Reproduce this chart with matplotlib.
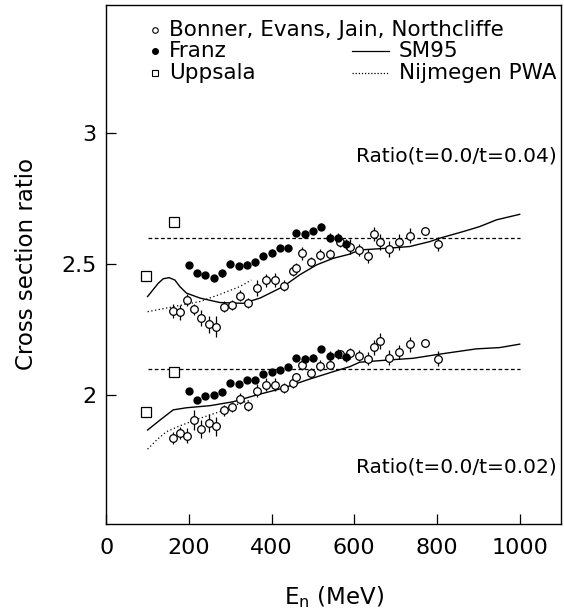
import numpy as np
import matplotlib.pyplot as plt

# Bonner, Evans, Jain, Northcliffe (open circles)
e_bonner = [162, 178, 195, 212, 230, 248, 266, 285, 305, 324, 344, 365, 386, 407, 429,
            451, 459, 473, 496, 518, 542, 566, 589, 612, 632, 647, 661, 685, 708, 734, 771, 802]
r04_bonner = [2.322, 2.316, 2.362, 2.327, 2.294, 2.270, 2.261, 2.337, 2.343, 2.379, 2.352,
              2.408, 2.438, 2.439, 2.418, 2.473, 2.486, 2.541, 2.507, 2.536, 2.540, 2.586,
              2.567, 2.555, 2.531, 2.615, 2.583, 2.558, 2.583, 2.608, 2.626, 2.577]
r04_bonner_err = [0.027, 0.028, 0.022, 0.022, 0.032, 0.033, 0.040, 0.022, 0.018, 0.022, 0.019,
                  0.030, 0.025, 0.025, 0.021, 0.019, 0.018, 0.025, 0.019, 0.020, 0.017, 0.020,
                  0.030, 0.023, 0.028, 0.025, 0.030, 0.030, 0.030, 0.028, 0.015, 0.027]
r02_bonner = [1.835, 1.854, 1.844, 1.904, 1.869, 1.892, 1.880, 1.942, 1.955, 1.986, 1.958,
              2.016, 2.039, 2.039, 2.026, 2.045, 2.068, 2.116, 2.085, 2.111, 2.115, 2.157,
              2.159, 2.150, 2.139, 2.182, 2.207, 2.143, 2.165, 2.194, 2.200, 2.139]
r02_bonner_err = [0.022, 0.022, 0.028, 0.038, 0.035, 0.035, 0.035, 0.021, 0.019, 0.022, 0.019,
                  0.025, 0.025, 0.025, 0.019, 0.017, 0.016, 0.020, 0.017, 0.021, 0.017, 0.016,
                  0.021, 0.021, 0.025, 0.029, 0.030, 0.029, 0.027, 0.029, 0.013, 0.027]

# Franz (filled dots)
e_franz = [200, 220, 240, 260, 280, 300, 320, 340, 360, 380, 400, 420, 440, 460, 480,
           500, 520, 540, 560, 580]
r04_franz = [2.496, 2.467, 2.457, 2.446, 2.464, 2.502, 2.492, 2.498, 2.506, 2.532, 2.544,
             2.561, 2.561, 2.618, 2.613, 2.626, 2.643, 2.601, 2.600, 2.576]
r02_franz = [2.014, 1.981, 1.995, 2.001, 2.011, 2.045, 2.042, 2.056, 2.056, 2.079, 2.089,
             2.096, 2.107, 2.141, 2.139, 2.143, 2.175, 2.148, 2.157, 2.144]
franz_err = [0.012] * 17 + [0.018, 0.02, 0.02]

# Uppsala (open squares)
e_uppsala = [96, 163]
r04_uppsala = [2.455, 2.660]
r04_uppsala_err = [0.0, 0.02]
r02_uppsala = [1.936, 2.089]

# SM95 curves
e_sm95_04 = [100, 126, 138, 152, 166, 178, 194, 227, 275, 331, 372, 428, 468, 509, 549,
             589, 613, 686, 734, 783, 807, 863, 903, 944, 1000]
r04_sm95 = [2.376, 2.427, 2.444, 2.448, 2.439, 2.414, 2.389, 2.370, 2.353, 2.350, 2.370,
            2.414, 2.459, 2.497, 2.522, 2.538, 2.554, 2.561, 2.567, 2.586, 2.599, 2.624,
            2.643, 2.669, 2.690]
e_sm95_02 = [100, 130, 162, 194, 251, 307, 364, 428, 485, 549, 589, 613, 686, 742, 807,
             895, 952, 1000]
r02_sm95 = [1.866, 1.904, 1.943, 1.951, 1.959, 1.974, 2.000, 2.026, 2.057, 2.089, 2.108,
            2.125, 2.134, 2.140, 2.156, 2.176, 2.181, 2.194]

# Nijmegen PWA (up to 350 MeV)
e_nijm_04 = [100, 162, 227, 283, 323, 351]
r04_nijm = [2.318, 2.337, 2.357, 2.389, 2.414, 2.439]
e_nijm_02 = [100, 122, 146, 178, 227, 275, 323, 351]
r02_nijm = [1.793, 1.828, 1.860, 1.882, 1.911, 1.936, 1.968, 1.981]

# reference levels
e_ref = [100, 1000]
ref_04 = 2.6
ref_02 = 2.1

plt.rcParams['font.family'] = 'DejaVu Sans'

fig = plt.figure(figsize=(5.64, 6.14), dpi=100)
ax = fig.add_axes([0.1884, 0.1466, 0.8063, 0.8458])

for ref in (ref_04, ref_02):
    ax.plot(e_ref, [ref, ref], color='black', lw=0.9, dashes=(3, 2))

ax.plot(e_sm95_04, r04_sm95, color='black', lw=1.0)
ax.plot(e_sm95_02, r02_sm95, color='black', lw=1.0)
ax.plot(e_nijm_04, r04_nijm, color='black', lw=0.9, linestyle=(0, (1, 2)))
ax.plot(e_nijm_02, r02_nijm, color='black', lw=0.9, linestyle=(0, (1, 2)))

open_kw = dict(fmt='o', ms=5.5, mfc='white', mec='black', mew=0.9,
               ecolor='black', elinewidth=0.9, capsize=0)
ax.errorbar(e_bonner, r04_bonner, yerr=r04_bonner_err, **open_kw)
ax.errorbar(e_bonner, r02_bonner, yerr=r02_bonner_err, **open_kw)

dot_kw = dict(fmt='o', ms=5, mfc='black', mec='black', ecolor='black',
              elinewidth=0.9, capsize=0)
ax.errorbar(e_franz, r04_franz, yerr=franz_err, **dot_kw)
ax.errorbar(e_franz, r02_franz, yerr=franz_err, **dot_kw)

sq_kw = dict(fmt='s', ms=6.5, mfc='white', mec='black', mew=0.9,
             ecolor='black', elinewidth=0.9, capsize=0)
ax.errorbar(e_uppsala, r04_uppsala, yerr=r04_uppsala_err, **sq_kw)
ax.errorbar(e_uppsala, r02_uppsala, **sq_kw)

# legend drawn by hand (two columns like the original)
tr = ax.transAxes
leg_fs = 15.5
ax.plot([0.107], [0.951], 'o', ms=4, mfc='white', mec='black', mew=0.8, transform=tr)
ax.plot([0.107], [0.911], 'o', ms=4, mfc='black', mec='black', transform=tr)
ax.plot([0.107], [0.869], 's', ms=4.5, mfc='white', mec='black', mew=0.8, transform=tr)
ax.text(0.138, 0.951, 'Bonner, Evans, Jain, Northcliffe', transform=tr, fontsize=leg_fs, va='center')
ax.text(0.138, 0.911, 'Franz', transform=tr, fontsize=leg_fs, va='center')
ax.text(0.138, 0.869, 'Uppsala', transform=tr, fontsize=leg_fs, va='center')
ax.plot([0.540, 0.622], [0.911, 0.911], color='black', lw=0.9, transform=tr)
ax.plot([0.540, 0.622], [0.869, 0.869], color='black', lw=0.9, linestyle=(0, (1, 1.5)), transform=tr)
ax.text(0.644, 0.911, 'SM95', transform=tr, fontsize=leg_fs, va='center')
ax.text(0.644, 0.869, 'Nijmegen PWA', transform=tr, fontsize=leg_fs, va='center')

ax.text(0.991, 0.709, 'Ratio(t=0.0/t=0.04)', transform=tr, fontsize=14.5, ha='right', va='center')
ax.text(0.991, 0.110, 'Ratio(t=0.0/t=0.02)', transform=tr, fontsize=14.5, ha='right', va='center')

ax.set_xlim(0, 1100)
ax.set_ylim(1.507, 3.491)
ax.set_xticks([0, 200, 400, 600, 800, 1000])
ax.set_yticks([2, 2.5, 3])
ax.set_yticklabels(['2', '2.5', '3'])
ax.tick_params(direction='in', length=7, width=0.9, labelsize=16)
ax.tick_params(axis='x', pad=10)
ax.tick_params(axis='y', pad=7)
for s in ax.spines.values():
    s.set_linewidth(1.0)

ax.set_xlabel(r'E$_\mathregular{n}$ (MeV)', fontsize=16.5, labelpad=19)
ax.set_ylabel('Cross section ratio', fontsize=16.5, labelpad=17)

fig.savefig('out.png', dpi=100)
